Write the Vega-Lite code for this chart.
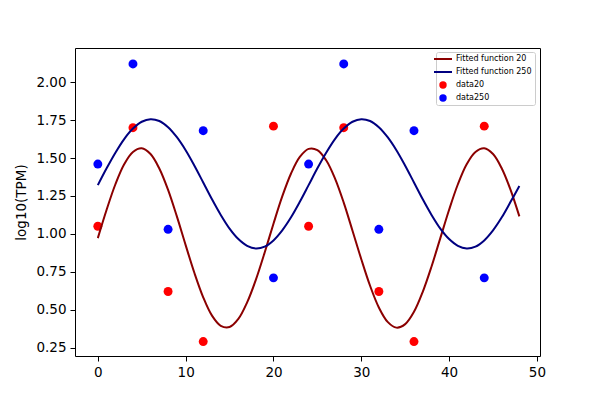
{
  "$schema": "https://vega.github.io/schema/vega-lite/v6.json",
  "width": 465,
  "height": 308,
  "autosize": {"type": "none"},
  "padding": {"left": 75, "top": 48, "right": 60, "bottom": 44},
  "background": "white",
  "datasets": {
    "fits": [
      {"x": 0, "y": 0.972, "series": "Fitted function 20"},
      {"x": 1, "y": 1.159, "series": "Fitted function 20"},
      {"x": 2, "y": 1.327, "series": "Fitted function 20"},
      {"x": 3, "y": 1.459, "series": "Fitted function 20"},
      {"x": 4, "y": 1.540, "series": "Fitted function 20"},
      {"x": 5, "y": 1.564, "series": "Fitted function 20"},
      {"x": 6, "y": 1.526, "series": "Fitted function 20"},
      {"x": 7, "y": 1.431, "series": "Fitted function 20"},
      {"x": 8, "y": 1.290, "series": "Fitted function 20"},
      {"x": 9, "y": 1.115, "series": "Fitted function 20"},
      {"x": 10, "y": 0.926, "series": "Fitted function 20"},
      {"x": 11, "y": 0.742, "series": "Fitted function 20"},
      {"x": 12, "y": 0.582, "series": "Fitted function 20"},
      {"x": 13, "y": 0.461, "series": "Fitted function 20"},
      {"x": 14, "y": 0.394, "series": "Fitted function 20"},
      {"x": 15, "y": 0.386, "series": "Fitted function 20"},
      {"x": 16, "y": 0.439, "series": "Fitted function 20"},
      {"x": 17, "y": 0.548, "series": "Fitted function 20"},
      {"x": 18, "y": 0.698, "series": "Fitted function 20"},
      {"x": 19, "y": 0.877, "series": "Fitted function 20"},
      {"x": 20, "y": 1.067, "series": "Fitted function 20"},
      {"x": 21, "y": 1.247, "series": "Fitted function 20"},
      {"x": 22, "y": 1.398, "series": "Fitted function 20"},
      {"x": 23, "y": 1.507, "series": "Fitted function 20"},
      {"x": 24, "y": 1.560, "series": "Fitted function 20"},
      {"x": 25, "y": 1.552, "series": "Fitted function 20"},
      {"x": 26, "y": 1.485, "series": "Fitted function 20"},
      {"x": 27, "y": 1.366, "series": "Fitted function 20"},
      {"x": 28, "y": 1.206, "series": "Fitted function 20"},
      {"x": 29, "y": 1.021, "series": "Fitted function 20"},
      {"x": 30, "y": 0.833, "series": "Fitted function 20"},
      {"x": 31, "y": 0.658, "series": "Fitted function 20"},
      {"x": 32, "y": 0.515, "series": "Fitted function 20"},
      {"x": 33, "y": 0.420, "series": "Fitted function 20"},
      {"x": 34, "y": 0.382, "series": "Fitted function 20"},
      {"x": 35, "y": 0.405, "series": "Fitted function 20"},
      {"x": 36, "y": 0.486, "series": "Fitted function 20"},
      {"x": 37, "y": 0.618, "series": "Fitted function 20"},
      {"x": 38, "y": 0.785, "series": "Fitted function 20"},
      {"x": 39, "y": 0.972, "series": "Fitted function 20"},
      {"x": 40, "y": 1.159, "series": "Fitted function 20"},
      {"x": 41, "y": 1.327, "series": "Fitted function 20"},
      {"x": 42, "y": 1.459, "series": "Fitted function 20"},
      {"x": 43, "y": 1.540, "series": "Fitted function 20"},
      {"x": 44, "y": 1.564, "series": "Fitted function 20"},
      {"x": 45, "y": 1.526, "series": "Fitted function 20"},
      {"x": 46, "y": 1.431, "series": "Fitted function 20"},
      {"x": 47, "y": 1.290, "series": "Fitted function 20"},
      {"x": 48, "y": 1.115, "series": "Fitted function 20"},
      {"x": 0, "y": 1.321, "series": "Fitted function 250"},
      {"x": 1, "y": 1.432, "series": "Fitted function 250"},
      {"x": 2, "y": 1.535, "series": "Fitted function 250"},
      {"x": 3, "y": 1.625, "series": "Fitted function 250"},
      {"x": 4, "y": 1.694, "series": "Fitted function 250"},
      {"x": 5, "y": 1.739, "series": "Fitted function 250"},
      {"x": 6, "y": 1.756, "series": "Fitted function 250"},
      {"x": 7, "y": 1.744, "series": "Fitted function 250"},
      {"x": 8, "y": 1.703, "series": "Fitted function 250"},
      {"x": 9, "y": 1.637, "series": "Fitted function 250"},
      {"x": 10, "y": 1.551, "series": "Fitted function 250"},
      {"x": 11, "y": 1.449, "series": "Fitted function 250"},
      {"x": 12, "y": 1.339, "series": "Fitted function 250"},
      {"x": 13, "y": 1.228, "series": "Fitted function 250"},
      {"x": 14, "y": 1.125, "series": "Fitted function 250"},
      {"x": 15, "y": 1.035, "series": "Fitted function 250"},
      {"x": 16, "y": 0.966, "series": "Fitted function 250"},
      {"x": 17, "y": 0.921, "series": "Fitted function 250"},
      {"x": 18, "y": 0.904, "series": "Fitted function 250"},
      {"x": 19, "y": 0.916, "series": "Fitted function 250"},
      {"x": 20, "y": 0.957, "series": "Fitted function 250"},
      {"x": 21, "y": 1.023, "series": "Fitted function 250"},
      {"x": 22, "y": 1.109, "series": "Fitted function 250"},
      {"x": 23, "y": 1.211, "series": "Fitted function 250"},
      {"x": 24, "y": 1.321, "series": "Fitted function 250"},
      {"x": 25, "y": 1.432, "series": "Fitted function 250"},
      {"x": 26, "y": 1.535, "series": "Fitted function 250"},
      {"x": 27, "y": 1.625, "series": "Fitted function 250"},
      {"x": 28, "y": 1.694, "series": "Fitted function 250"},
      {"x": 29, "y": 1.739, "series": "Fitted function 250"},
      {"x": 30, "y": 1.756, "series": "Fitted function 250"},
      {"x": 31, "y": 1.744, "series": "Fitted function 250"},
      {"x": 32, "y": 1.703, "series": "Fitted function 250"},
      {"x": 33, "y": 1.637, "series": "Fitted function 250"},
      {"x": 34, "y": 1.551, "series": "Fitted function 250"},
      {"x": 35, "y": 1.449, "series": "Fitted function 250"},
      {"x": 36, "y": 1.339, "series": "Fitted function 250"},
      {"x": 37, "y": 1.228, "series": "Fitted function 250"},
      {"x": 38, "y": 1.125, "series": "Fitted function 250"},
      {"x": 39, "y": 1.035, "series": "Fitted function 250"},
      {"x": 40, "y": 0.966, "series": "Fitted function 250"},
      {"x": 41, "y": 0.921, "series": "Fitted function 250"},
      {"x": 42, "y": 0.904, "series": "Fitted function 250"},
      {"x": 43, "y": 0.916, "series": "Fitted function 250"},
      {"x": 44, "y": 0.957, "series": "Fitted function 250"},
      {"x": 45, "y": 1.023, "series": "Fitted function 250"},
      {"x": 46, "y": 1.109, "series": "Fitted function 250"},
      {"x": 47, "y": 1.211, "series": "Fitted function 250"},
      {"x": 48, "y": 1.315, "series": "Fitted function 250"}
    ],
    "samples": [
      {"x": 0, "y": 1.05, "series": "data20"},
      {"x": 4, "y": 1.70, "series": "data20"},
      {"x": 8, "y": 0.62, "series": "data20"},
      {"x": 12, "y": 0.29, "series": "data20"},
      {"x": 20, "y": 1.71, "series": "data20"},
      {"x": 24, "y": 1.05, "series": "data20"},
      {"x": 28, "y": 1.70, "series": "data20"},
      {"x": 32, "y": 0.62, "series": "data20"},
      {"x": 36, "y": 0.29, "series": "data20"},
      {"x": 44, "y": 1.71, "series": "data20"},
      {"x": 0, "y": 1.46, "series": "data250"},
      {"x": 4, "y": 2.12, "series": "data250"},
      {"x": 8, "y": 1.03, "series": "data250"},
      {"x": 12, "y": 1.68, "series": "data250"},
      {"x": 20, "y": 0.71, "series": "data250"},
      {"x": 24, "y": 1.46, "series": "data250"},
      {"x": 28, "y": 2.12, "series": "data250"},
      {"x": 32, "y": 1.03, "series": "data250"},
      {"x": 36, "y": 1.68, "series": "data250"},
      {"x": 44, "y": 0.71, "series": "data250"}
    ]
  },
  "encoding": {
    "x": {
      "field": "x",
      "type": "quantitative",
      "scale": {"domain": [-2.6, 50.35], "nice": false, "zero": false},
      "axis": {"values": [0, 10, 20, 30, 40, 50], "title": null}
    },
    "y": {
      "field": "y",
      "type": "quantitative",
      "scale": {"domain": [0.195, 2.225], "nice": false, "zero": false},
      "axis": {
        "values": [0.25, 0.5, 0.75, 1, 1.25, 1.5, 1.75, 2],
        "format": ".2f",
        "title": "log10(TPM)"
      }
    },
    "color": {
      "field": "series",
      "type": "nominal",
      "scale": {
        "domain": ["Fitted function 20", "Fitted function 250", "data20", "data250"],
        "range": ["#8b0000", "#000080", "#ff0000", "#0000ff"]
      },
      "legend": {
        "title": null,
        "orient": "none",
        "legendX": 361,
        "legendY": 4,
        "padding": 3,
        "symbolSize": 324,
        "labelFontSize": 8,
        "labelOffset": 9,
        "rowPadding": 5,
        "strokeColor": "#cccccc",
        "fillColor": "rgba(255,255,255,0.8)",
        "cornerRadius": 2,
        "encode": {
          "symbols": {
            "update": {
              "shape": {"signal": "indexof(['data20','data250'], datum.value) >= 0 ? 'circle' : 'stroke'"},
              "size": {"signal": "indexof(['data20','data250'], datum.value) >= 0 ? 55 : 324"},
              "fill": {"signal": "indexof(['data20','data250'], datum.value) >= 0 ? scale('color', datum.value) : 'transparent'"},
              "stroke": {"signal": "scale('color', datum.value)"},
              "strokeWidth": {"signal": "indexof(['data20','data250'], datum.value) >= 0 ? 0 : 2"},
              "opacity": {"value": 1},
              "fillOpacity": {"value": 1}
            }
          }
        }
      }
    }
  },
  "layer": [
    {
      "data": {"name": "samples"},
      "mark": {"type": "circle", "size": 80, "opacity": 1}
    },
    {
      "data": {"name": "fits"},
      "mark": {"type": "line", "strokeWidth": 2, "interpolate": "catmull-rom"}
    }
  ],
  "config": {
    "font": "DejaVu Sans",
    "view": {"stroke": "black", "strokeWidth": 1},
    "axis": {
      "grid": false,
      "domain": false,
      "ticks": true,
      "tickColor": "black",
      "tickSize": 5,
      "tickWidth": 1,
      "labelColor": "black",
      "labelFont": "DejaVu Sans",
      "labelFontSize": 13.5,
      "labelPadding": 4,
      "titleFont": "DejaVu Sans",
      "titleFontSize": 13.5,
      "titleFontWeight": "normal",
      "titleColor": "black",
      "titlePadding": 7
    },
    "legend": {
      "labelFont": "DejaVu Sans",
      "labelColor": "black"
    }
  }
}
